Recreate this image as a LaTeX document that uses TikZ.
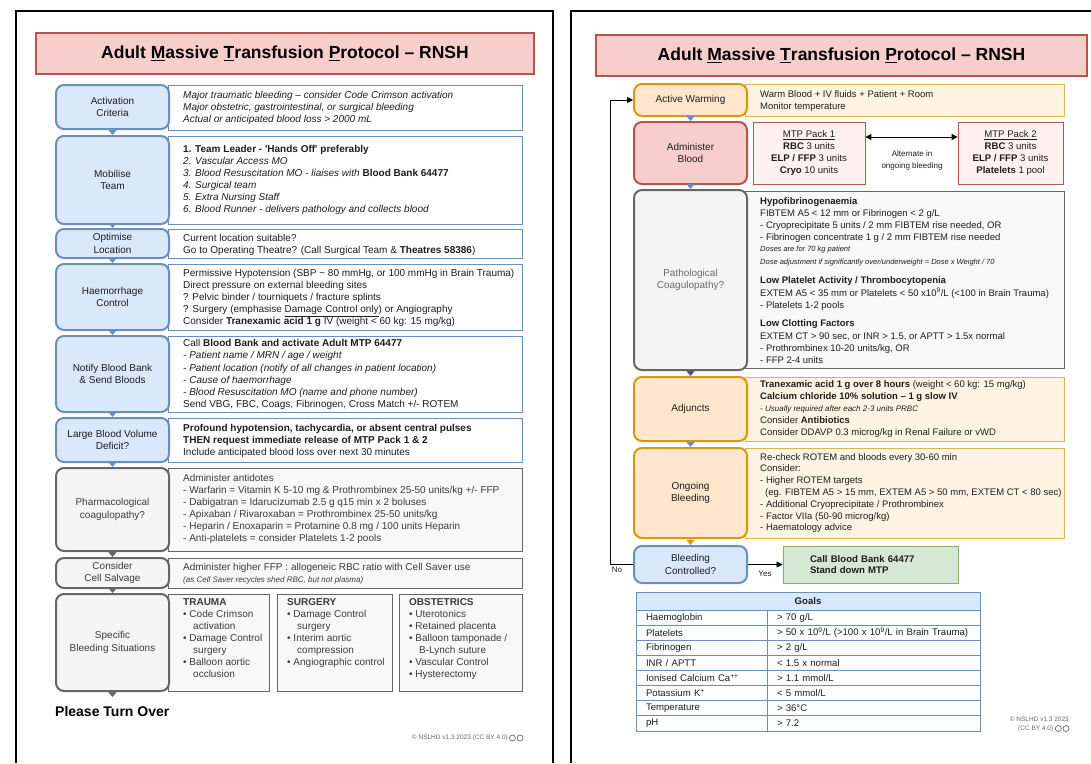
\documentclass[tikz,border=0pt]{standalone}
\usepackage{fontspec}
\setmainfont{Liberation Sans}
\usetikzlibrary{arrows.meta,positioning}

\definecolor{blueFill}{HTML}{DAE8FC}
\definecolor{blueLine}{HTML}{6C8EBF}
\definecolor{grayFill}{HTML}{F5F5F5}
\definecolor{panelGray}{HTML}{F8F8F8}
\definecolor{grayLine}{HTML}{666666}
\definecolor{redFill}{HTML}{F8CECC}
\definecolor{redLine}{HTML}{B85450}
\definecolor{pinkFill}{HTML}{FFF1F1}
\definecolor{orangeFill}{HTML}{FFE6CC}
\definecolor{orangeLine}{HTML}{D79B00}
\definecolor{creamFill}{HTML}{FFF4E3}
\definecolor{creamLine}{HTML}{DDB44E}
\definecolor{greenFill}{HTML}{D5E8D4}
\definecolor{greenLine}{HTML}{82B366}
\definecolor{purpleLine}{HTML}{56517E}
\definecolor{textDark}{HTML}{1E1E1E}
\definecolor{textGray}{HTML}{3C3C3C}
\definecolor{textLight}{HTML}{6A6A6A}

\begin{document}
\begin{tikzpicture}[x=1pt, y=-1pt]
\tikzset{Title/.style = {shape=rectangle, draw=redLine, fill=redFill, line width=1.2pt, minimum height=41pt, font=\fontsize{17.5}{20}\selectfont\bfseries}}
\tikzset{LabelBox/.style = {shape=rectangle, rounded corners=8pt, line width=2pt, minimum width=113pt, inner sep=2pt, align=center, text=textDark, font=\fontsize{10}{12.5}\selectfont}}
\tikzset{BlueLabel/.style = {LabelBox, draw=blueLine, fill=blueFill}}
\tikzset{GrayLabel/.style = {LabelBox, draw=grayLine, fill=grayFill, text=textGray}}
\tikzset{OrangeLabel/.style = {LabelBox, draw=orangeLine, fill=orangeFill}}
\tikzset{RedLabel/.style = {LabelBox, draw=redLine, fill=redFill}}
\tikzset{Panel/.style = {shape=rectangle, line width=0.9pt, inner sep=0pt}}
\tikzset{BluePanel/.style = {Panel, draw=blueLine, fill=white}}
\tikzset{GrayPanel/.style = {Panel, draw=grayLine, fill=panelGray}}
\tikzset{CreamPanel/.style = {Panel, draw=creamLine, fill=creamFill}}
\tikzset{PinkPanel/.style = {Panel, draw=redLine, fill=pinkFill, align=center, text=textDark, font=\fontsize{9.6}{11.8}\selectfont}}
\tikzset{Lines/.style = {anchor=west, align=left, inner sep=0pt, text=textDark, font=\fontsize{10}{12.1}\selectfont}}
\tikzset{LinesR/.style = {Lines, font=\fontsize{9.5}{11.8}\selectfont}}
\tikzset{Link/.style = {-{Triangle[width=8pt, length=5pt]}, line width=1pt}}
\tikzset{Wire/.style = {-{Triangle[width=6pt, length=6pt]}, line width=0.9pt, black}}
\tikzset{Cell/.style = {shape=rectangle, draw=blueLine, line width=0.9pt, minimum height=15.125pt, inner xsep=10pt, inner ysep=0pt, align=left, text=textDark, font=\fontsize{9.6}{11}\selectfont}}
\tikzset{Small/.style = {inner sep=0pt, text=textDark, font=\fontsize{8}{10}\selectfont}}

  \useasboundingbox (0,0) rectangle (1091,763);
  \fill[white] (0,0) rectangle (1091,763);
  % pages
  \draw[line width=2pt] (16,763) -- (16,11) -- (553,11) -- (553,763);
  \draw[line width=2pt] (571,763) -- (571,11) -- (1091,11);

  % ---------------- page 1 ----------------
  \node[Title, minimum width=498pt] (titleL) at (285,53.5) {Adult \underline{M}assive \underline{T}ransfusion \underline{P}rotocol – RNSH};

  \node[BluePanel, minimum width=354pt, minimum height=45pt] (actPanel) at (345,107.5) {};
  \node[BluePanel, minimum width=354pt, minimum height=88pt] (mobPanel) at (345,180) {};
  \node[BluePanel, minimum width=354pt, minimum height=29pt] (optPanel) at (345,243.5) {};
  \node[BluePanel, minimum width=354pt, minimum height=66pt] (haePanel) at (345,297) {};
  \node[BluePanel, minimum width=354pt, minimum height=76pt] (notPanel) at (345,374) {};
  \node[BluePanel, minimum width=354pt, minimum height=44pt] (lbvPanel) at (345,440) {};
  \node[GrayPanel, minimum width=354pt, minimum height=83pt] (phaPanel) at (345,509.5) {};
  \node[GrayPanel, minimum width=354pt, minimum height=30pt] (celPanel) at (345,573) {};
  \node[GrayPanel, minimum width=101pt, minimum height=97pt] (traumaPanel) at (218.5,642.5) {};
  \node[GrayPanel, minimum width=115pt, minimum height=97pt] (surgPanel) at (334.5,642.5) {};
  \node[GrayPanel, minimum width=123pt, minimum height=97pt] (obstPanel) at (460.5,642.5) {};

  \node[BlueLabel, minimum height=44pt] (act) at (112.5,107) {Activation\\Criteria};
  \node[BlueLabel, minimum height=88pt] (mob) at (112.5,180) {Mobilise\\Team};
  \node[BlueLabel, minimum height=29pt] (opt) at (112.5,243.5) {Optimise\\Location};
  \node[BlueLabel, minimum height=66pt] (hae) at (112.5,297) {Haemorrhage\\Control};
  \node[BlueLabel, minimum height=76pt] (not) at (112.5,374) {Notify Blood Bank\\\& Send Bloods};
  \node[BlueLabel, minimum height=44pt] (lbv) at (112.5,440) {Large Blood Volume\\Deficit?};
  \node[GrayLabel, minimum height=83pt] (pha) at (112.5,509.5) {Pharmacological\\coagulopathy?};
  \node[GrayLabel, minimum height=30pt] (cel) at (112.5,573) {Consider\\Cell Salvage};
  \node[GrayLabel, minimum height=97pt] (spe) at (112.5,642.5) {Specific\\Bleeding Situations};
  \coordinate (speEnd) at (112.5,697);

  \node[Lines, font=\fontsize{10}{12.1}\selectfont\itshape] (actText) at (183,108) {Major traumatic bleeding – consider Code Crimson activation\\Major obstetric, gastrointestinal, or surgical bleeding\\Actual or anticipated blood loss > 2000 mL};
  \node[Lines] (mobText) at (183,180) {\textbf{1. Team Leader - \textquotesingle Hands Off\textquotesingle\ preferably}\\\textit{2. Vascular Access MO}\\\textit{3. Blood Resuscitation MO - liaises with} \textbf{Blood Bank 64477}\\\textit{4. Surgical team}\\\textit{5. Extra Nursing Staff}\\\textit{6. Blood Runner - delivers pathology and collects blood}};
  \node[Lines] (optText) at (183,245) {Current location suitable?\\Go to Operating Theatre? (Call Surgical Team \& \textbf{Theatres 58386})};
  \node[Lines] (haeText) at (183,298) {Permissive Hypotension (SBP \textasciitilde{} 80 mmHg, or 100 mmHg in Brain Trauma)\\Direct pressure on external bleeding sites\\? Pelvic binder / tourniquets / fracture splints\\? Surgery (emphasise \underline{Damage Control only}) or Angiography\\Consider \textbf{Tranexamic acid 1 g} IV (weight < 60 kg: 15 mg/kg)};
  \node[Lines] (notText) at (183,374.5) {Call \textbf{Blood Bank and activate Adult MTP 64477}\\\textit{- Patient name / MRN / age / weight}\\\textit{- Patient location (notify of all changes in patient location)}\\\textit{- Cause of haemorrhage}\\\textit{- Blood Resuscitation MO (name and phone number)}\\Send VBG, FBC, Coags, Fibrinogen, Cross Match +/- ROTEM};
  \node[Lines] (lbvText) at (183,441) {\textbf{Profound hypotension, tachycardia, or absent central pulses}\\\textbf{THEN request immediate release of MTP Pack 1 \& 2}\\Include anticipated blood loss over next 30 minutes};
  \node[Lines, text=textGray] (phaText) at (183,509) {Administer antidotes\\- Warfarin = Vitamin K 5-10 mg \& Prothrombinex 25-50 units/kg +/- FFP\\- Dabigatran = Idarucizumab 2.5 g q15 min x 2 boluses\\- Apixaban / Rivaroxaban = Prothrombinex 25-50 units/kg\\- Heparin / Enoxaparin = Protamine 0.8 mg / 100 units Heparin\\- Anti-platelets = consider Platelets 1-2 pools};
  \node[Lines, text=textGray] (celText) at (183,574) {Administer higher FFP : allogeneic RBC ratio with Cell Saver use\\{\fontsize{8}{10}\selectfont\itshape (as Cell Saver recycles shed RBC, but not plasma)}};
  \node[Lines, anchor=north west, text=textGray, font=\fontsize{10}{12}\selectfont] (traumaText) at (183,598) {\textbf{TRAUMA}\\• Code Crimson\\\hspace*{10pt}activation\\• Damage Control\\\hspace*{10pt}surgery\\• Balloon aortic\\\hspace*{10pt}occlusion};
  \node[Lines, anchor=north west, text=textGray, font=\fontsize{10}{12}\selectfont] (surgText) at (287,598) {\textbf{SURGERY}\\• Damage Control\\\hspace*{10pt}surgery\\• Interim aortic\\\hspace*{10pt}compression\\• Angiographic control};
  \node[Lines, anchor=north west, text=textGray, font=\fontsize{10}{12}\selectfont] (obstText) at (409,598) {\textbf{OBSTETRICS}\\• Uterotonics\\• Retained placenta\\• Balloon tamponade /\\\hspace*{10pt}B-Lynch suture\\• Vascular Control\\• Hysterectomy};

  \draw[Link, blueLine] (act) -- (mob);
  \draw[Link, blueLine] (mob) -- (opt);
  \draw[Link, blueLine] (opt) -- (hae);
  \draw[Link, blueLine] (hae) -- (not);
  \draw[Link, blueLine] (not) -- (lbv);
  \draw[Link, blueLine] (lbv) -- (pha);
  \draw[Link, grayLine] (pha) -- (cel);
  \draw[Link, grayLine] (cel) -- (spe);
  \draw[Link, grayLine] (spe) -- (speEnd);

  \node[anchor=west, inner sep=0pt, font=\fontsize{14}{16}\selectfont\bfseries] (turnOver) at (55,711) {Please Turn Over};
  \node[anchor=east, inner sep=0pt, text=textLight, font=\fontsize{6.5}{8}\selectfont] (copyL) at (508,738) {© NSLHD v1.3 2023 (CC BY 4.0)};
  \node[circle, draw=textLight, line width=0.7pt, minimum size=6pt, inner sep=0pt, right=1pt of copyL] (ccL) {};
  \node[circle, draw=textLight, line width=0.7pt, minimum size=6pt, inner sep=0pt, right=1pt of ccL] (byL) {};

  % ---------------- page 2 ----------------
  \node[Title, minimum width=491pt] (titleR) at (841.5,55.5) {Adult \underline{M}assive \underline{T}ransfusion \underline{P}rotocol – RNSH};

  \node[CreamPanel, minimum width=319pt, minimum height=32pt] (awPanel) at (904.5,100) {};
  \node[GrayPanel, minimum width=319pt, minimum height=177pt] (pcPanel) at (904.5,279.5) {};
  \node[CreamPanel, minimum width=319pt, minimum height=64pt] (adjPanel) at (904.5,409) {};
  \node[CreamPanel, minimum width=319pt, minimum height=90pt] (ongPanel) at (904.5,493) {};

  \node[OrangeLabel, minimum height=32pt] (aw) at (690.5,100) {Active Warming};
  \node[RedLabel, minimum height=62pt] (ab) at (690.5,153) {Administer\\Blood};
  \node[GrayLabel, minimum height=180pt, text=textLight] (pc) at (690.5,280) {Pathological\\Coagulopathy?};
  \node[OrangeLabel, minimum height=64pt] (adj) at (690.5,409) {Adjuncts};
  \node[OrangeLabel, minimum height=90pt] (ong) at (690.5,493) {Ongoing\\Bleeding};
  \node[BlueLabel, minimum height=37pt] (bc) at (690.5,564.5) {Bleeding\\Controlled?};

  \node[PinkPanel, minimum width=112pt, minimum height=62pt] (mtp1) at (809,153) {\underline{MTP Pack 1}\\\textbf{RBC} 3 units\\\textbf{ELP / FFP} 3 units\\\textbf{Cryo} 10 units};
  \node[PinkPanel, minimum width=105pt, minimum height=62pt] (mtp2) at (1010.5,153) {\underline{MTP Pack 2}\\\textbf{RBC} 3 units\\\textbf{ELP / FFP} 3 units\\\textbf{Platelets} 1 pool};
  \node[Small, align=center, font=\fontsize{8}{12}\selectfont] (altNote) at (912,160) {Alternate in\\ongoing bleeding};
  \draw[{Triangle[width=6pt, length=6pt]}-{Triangle[width=6pt, length=6pt]}, line width=1pt] ([yshift=16pt]mtp1.east) -- ([yshift=16pt]mtp2.west);

  \node[LinesR] (awText) at (760,101) {Warm Blood + IV fluids + Patient + Room\\Monitor temperature};
  \node[LinesR] (pcText) at (760,280.5) {\textbf{Hypofibrinogenaemia}\\FIBTEM A5 < 12 mm or Fibrinogen < 2 g/L\\- Cryoprecipitate 5 units / 2 mm FIBTEM rise needed, OR\\- Fibrinogen concentrate 1 g / 2 mm FIBTEM rise needed\\{\fontsize{7.5}{9}\selectfont\itshape Doses are for 70 kg patient}\\[1pt]{\fontsize{7.5}{9}\selectfont\itshape Dose adjustment if significantly over/underweight = Dose x Weight / 70}\\[7pt]\textbf{Low Platelet Activity / Thrombocytopenia}\\[1pt]EXTEM A5 < 35 mm or Platelets < 50 x10\textsuperscript{9}/L (<100 in Brain Trauma)\\- Platelets 1-2 pools\\[7pt]\textbf{Low Clotting Factors}\\[1pt]EXTEM CT > 90 sec, or INR > 1.5, or APTT > 1.5x normal\\- Prothrombinex 10-20 units/kg, OR\\- FFP 2-4 units};
  \node[LinesR] (adjText) at (760,409) {\textbf{Tranexamic acid 1 g over 8 hours} (weight < 60 kg: 15 mg/kg)\\\textbf{Calcium chloride 10\% solution – 1 g slow IV}\\{\fontsize{8}{10}\selectfont\itshape - Usually required after each 2-3 units PRBC}\\Consider \textbf{Antibiotics}\\Consider DDAVP 0.3 microg/kg in Renal Failure or vWD};
  \node[LinesR] (ongText) at (760,493) {Re-check ROTEM and bloods every 30-60 min\\Consider:\\- Higher ROTEM targets\\\hspace*{5pt}(eg. FIBTEM A5 > 15 mm, EXTEM A5 > 50 mm, EXTEM CT < 80 sec)\\- Additional Cryoprecipitate / Prothrombinex\\- Factor VIIa (50-90 microg/kg)\\- Haematology advice};

  \node[shape=rectangle, draw=greenLine, fill=greenFill, line width=1pt, minimum height=37pt, text width=121pt, inner xsep=27pt, align=left, text=textDark, font=\fontsize{9.6}{11.8}\selectfont\bfseries] (stop) at (870.5,564.5) {Call Blood Bank 64477\\Stand down MTP};

  \draw[Link, blueLine] (aw) -- (ab);
  \draw[Link, blueLine] (ab) -- (pc);
  \draw[Link, purpleLine] (pc) -- (adj);
  \draw[Link, blueLine] (adj) -- (ong);
  \draw[Link, orangeLine] (ong) -- (bc);
  \draw[Wire] (bc) -- (stop);
  \node[Small] (yesNote) at (765,574) {Yes};
  \coordinate (loopLow) at (610,564.5);
  \coordinate (loopHigh) at (610,100);
  \draw[Wire] (bc.west) -- (loopLow) -- (loopHigh) -- (aw.west);
  \node[Small] (noNote) at (617,570) {No};

  % goals
  \node[Cell, fill=blueFill, minimum width=344pt, minimum height=18pt, align=center, font=\fontsize{9.6}{11}\selectfont\bfseries] (goals) at (808,601) {Goals};
  \node[Cell, text width=111pt] (g1a) at (701.5,617.56) {Haemoglobin};
  \node[Cell, text width=193pt] (g1b) at (873.5,617.56) {> 70 g/L};
  \node[Cell, text width=111pt] (g2a) at (701.5,632.69) {Platelets};
  \node[Cell, text width=193pt] (g2b) at (873.5,632.69) {\mbox{> 50 x 10\textsuperscript{9}/L (>100 x 10\textsuperscript{9}/L in Brain Trauma)}};
  \node[Cell, text width=111pt] (g3a) at (701.5,647.81) {Fibrinogen};
  \node[Cell, text width=193pt] (g3b) at (873.5,647.81) {> 2 g/L};
  \node[Cell, text width=111pt] (g4a) at (701.5,662.94) {INR / APTT};
  \node[Cell, text width=193pt] (g4b) at (873.5,662.94) {< 1.5 x normal};
  \node[Cell, text width=111pt] (g5a) at (701.5,678.06) {Ionised Calcium Ca\textsuperscript{++}};
  \node[Cell, text width=193pt] (g5b) at (873.5,678.06) {> 1.1 mmol/L};
  \node[Cell, text width=111pt] (g6a) at (701.5,693.19) {Potassium K\textsuperscript{+}};
  \node[Cell, text width=193pt] (g6b) at (873.5,693.19) {< 5 mmol/L};
  \node[Cell, text width=111pt] (g7a) at (701.5,708.31) {Temperature};
  \node[Cell, text width=193pt] (g7b) at (873.5,708.31) {> 36°C};
  \node[Cell, text width=111pt] (g8a) at (701.5,723.44) {pH};
  \node[Cell, text width=193pt] (g8b) at (873.5,723.44) {> 7.2};

  \node[anchor=east, inner sep=0pt, text=textLight, font=\fontsize{6.5}{8}\selectfont] (copyR) at (1069,719) {© NSLHD v1.3 2023};
  \node[circle, draw=textLight, line width=0.7pt, minimum size=6pt, inner sep=0pt] (byR) at (1066,728.5) {};
  \node[circle, draw=textLight, line width=0.7pt, minimum size=6pt, inner sep=0pt, left=1pt of byR] (ccR) {};
  \node[anchor=east, inner sep=0pt, text=textLight, font=\fontsize{6.5}{8}\selectfont, left=1.5pt of ccR] (licR) {(CC BY 4.0)};
\end{tikzpicture}
\end{document}
